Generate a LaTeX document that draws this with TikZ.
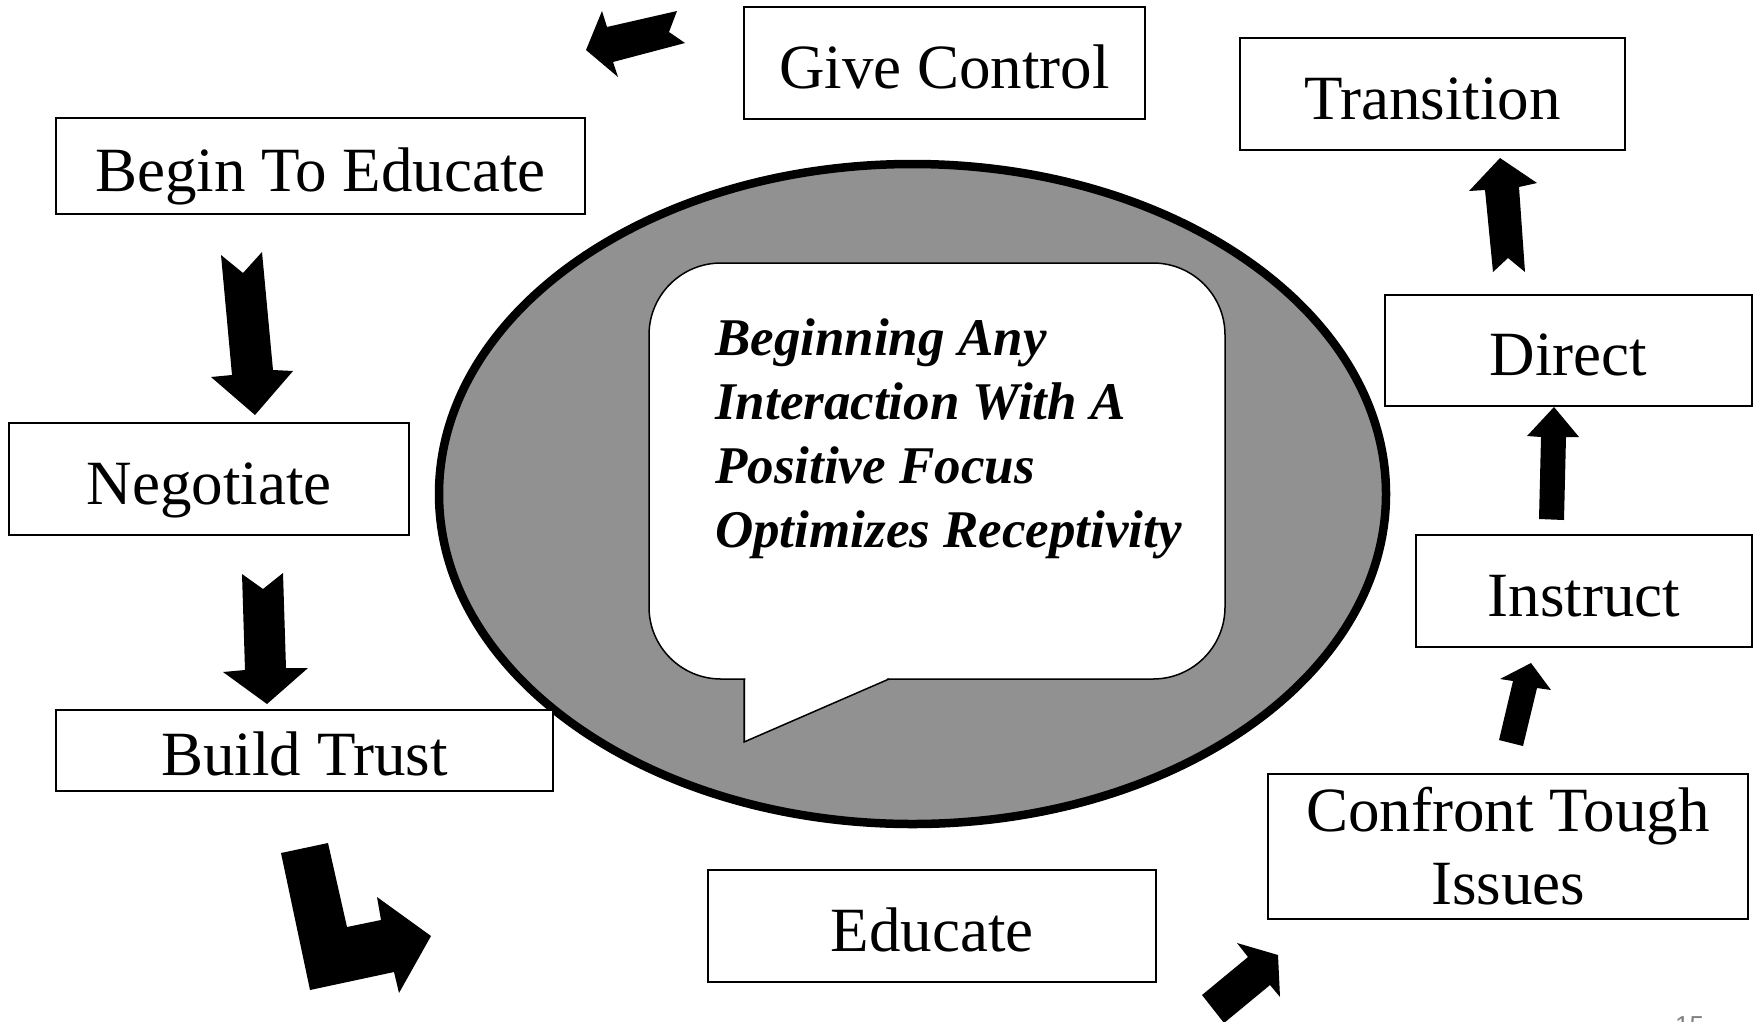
\documentclass[tikz,border=0pt]{standalone}
\usepackage{fontspec}
\setmainfont{Liberation Serif}
\newfontfamily\footfont{Liberation Sans}
\definecolor{ringgray}{RGB}{145,145,145}
\begin{document}
\begin{tikzpicture}[x=1pt,y=-1pt,
  stepbox/.style={draw=black, line width=2.3pt, fill=white, inner sep=0pt,
    font=\fontsize{63}{73}\selectfont, align=center},
  onebox/.style={stepbox, text height=50pt, text depth=0pt},
  blockarrow/.style={fill=black},
  bubbleline/.style={draw=black, line width=1.5pt, line join=miter},
]
\useasboundingbox (0,0) rectangle (1760,1021);
\clip (0,0) rectangle (1760,1021);
\fill[white] (0,0) rectangle (1760,1021);

% central ring
\draw[line width=8.5pt, fill=ringgray] (912.5,494) ellipse [x radius=473.5, y radius=330];

% speech bubble with its tail
\node[bubbleline, fill=white, rounded corners=72pt, minimum width=576pt,
  minimum height=416pt, inner sep=0pt] (bubble) at (937,471) {};
\fill[white] (745.4,675) -- (745.4,741) -- (887,680.2) -- (887,675) -- cycle;
\draw[bubbleline] (744,678.5) -- (744,742) -- (889,679);
% the base anchor of a multi-line node sits on its last line
\node[anchor=base west, align=left, inner sep=0pt,
  font=\bfseries\itshape\fontsize{53}{64}\selectfont] (msg) at (715,547)
  {Beginning Any\\Interaction With A\\Positive Focus\\Optimizes Receptivity};

% step boxes
\node[onebox, minimum width=401pt, minimum height=112pt] (give) at (944.5,63) {Give Control};
\node[onebox, minimum width=385pt, minimum height=112pt] (transition) at (1432.5,94) {Transition};
\node[onebox, minimum width=529pt, minimum height=96pt] (begin) at (320.5,166) {Begin To Educate};
\node[onebox, minimum width=400pt, minimum height=112pt] (negotiate) at (209,479) {Negotiate};
\node[onebox, minimum width=497pt, minimum height=81pt] (trust) at (304.5,750.5) {Build Trust};
\node[onebox, minimum width=367pt, minimum height=111pt] (direct) at (1568.5,350.5) {Direct};
\node[onebox, minimum width=336pt, minimum height=112pt] (instruct) at (1584,591) {Instruct};
\node[stepbox, minimum width=480pt, minimum height=145pt] (confront) at (1508,846.5) {Confront Tough\\Issues};
\node[onebox, minimum width=448pt, minimum height=112pt] (educate) at (932,926) {Educate};

% block arrows between the steps
\fill[blockarrow] (677,11) -- (669,32) -- (685,43) -- (613,62) -- (618,77) -- (586,50) -- (602,11) -- (607,27) -- cycle;
\fill[blockarrow] (221,255) -- (243,273) -- (262,252) -- (273,370) -- (293,371) -- (255,415) -- (211,377) -- (232,375) -- cycle;
\fill[blockarrow] (242,574) -- (263,589) -- (283,573) -- (286,668) -- (308,668) -- (267,704) -- (223,672) -- (245,670) -- cycle;
\fill[blockarrow] (281,853) -- (328,843) -- (347,927) -- (381,920) -- (377,897) -- (431,936) -- (399,993) -- (394,972) -- (310,990) -- cycle;
\fill[blockarrow] (1202,995) -- (1248,957) -- (1237,943) -- (1278,955) -- (1280,997) -- (1270,985) -- (1224,1023) -- cycle;
\fill[blockarrow] (1531,663) -- (1551,690) -- (1537,688) -- (1523,746) -- (1499,740) -- (1513,681) -- (1500,679) -- cycle;
\fill[blockarrow] (1554,407) -- (1579,437) -- (1566,437) -- (1564,520) -- (1539,519) -- (1541,437) -- (1527,436) -- cycle;
\fill[blockarrow] (1500,158) -- (1537,183) -- (1519,187) -- (1525,272) -- (1508,258) -- (1493,272) -- (1485,190) -- (1469,191) -- cycle;

% page number at the lower edge
\node[anchor=north west, inner sep=0pt, text=gray, font=\footfont\fontsize{26}{26}\selectfont] (pagenum) at (1675,1016) {15};
\end{tikzpicture}
\end{document}
